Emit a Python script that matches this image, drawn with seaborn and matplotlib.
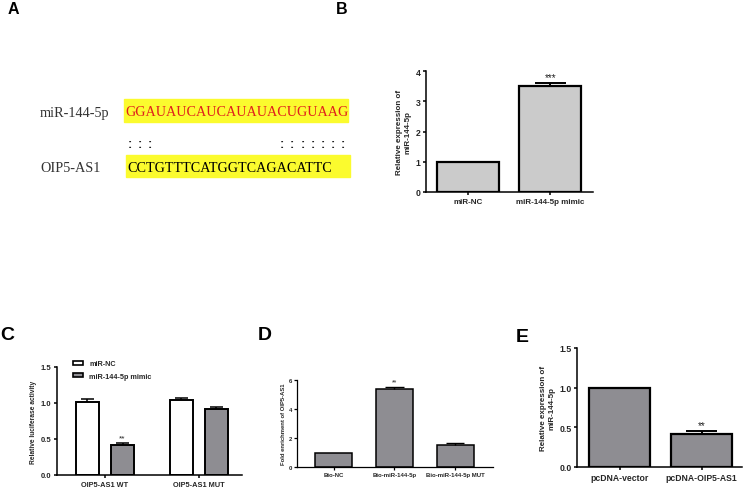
import numpy as np
import pandas as pd
import matplotlib
matplotlib.use("Agg")
import matplotlib.pyplot as plt
from matplotlib.patches import Rectangle, Patch
import seaborn as sns

# ---- data ----
seq_mir = "GGAUAUCAUCAUAUACUGUAAG"
seq_lnc = "CCTGTTTCATGGTCAGACATTC"
pair_idx = [0, 1, 2, 15, 16, 17, 18, 19, 20, 21]

b_groups = ["miR-NC", "miR-144-5p mimic"]
b_values = [1.0, 3.5]
b_err = [0.0, 0.1]
b_stars = ["", "***"]

c_groups = ["OIP5-AS1 WT", "OIP5-AS1 MUT"]
c_hue = ["miR-NC", "miR-144-5p mimic"]
c_nc = [1.02, 1.04]
c_nc_err = [0.03, 0.03]
c_mimic = [0.41, 0.91]
c_mimic_err = [0.04, 0.04]
c_stars = ["**", ""]

d_groups = ["Bio-NC", "Bio-miR-144-5p", "Bio-miR-144-5p MUT"]
d_values = [1.0, 5.35, 1.55]
d_err = [0.0, 0.2, 0.12]
d_stars = ["", "**", ""]

e_groups = ["pcDNA-vector", "pcDNA-OIP5-AS1"]
e_values = [1.0, 0.42]
e_err = [0.0, 0.03]
e_stars = ["", "**"]

GRAY = "#8e8d92"
LIGHT = "#cbcbcb"

sns.set_style("ticks")
plt.rcParams["font.family"] = ["Liberation Sans", "DejaVu Sans"]
plt.rcParams["font.weight"] = "bold"
plt.rcParams["axes.labelweight"] = "bold"

W, H = 743, 489
fig = plt.figure(figsize=(W / 100, H / 100), dpi=100)


def px_axes(left, right, top, bottom):
    return fig.add_axes([left / W, 1 - bottom / H, (right - left) / W, (bottom - top) / H])


def style_axes(ax, fs, lw, ticklen):
    sns.despine(ax=ax)
    for s in ("left", "bottom"):
        ax.spines[s].set_linewidth(lw)
        ax.spines[s].set_color("black")
    ax.tick_params(axis="both", labelsize=fs, width=lw, length=ticklen, color="black", pad=1.5)
    for t in ax.get_xticklabels() + ax.get_yticklabels():
        t.set_fontweight("bold")
    ax.set_xlabel("")


def add_err(ax, xs, ys, errs, stars, cap, lw, star_fs, star_off):
    # upward-only error bars, GraphPad style
    ys = np.array(ys)
    errs = np.array(errs)
    xs = np.array(xs)
    has = errs > 0
    top = ys + errs
    ax.vlines(xs[has], ys[has], top[has], color="black", linewidth=lw, zorder=5)
    xl, xr = ax.get_xlim()
    ax.hlines(top[has], xs[has] - cap, xs[has] + cap, color="black", linewidth=lw, zorder=5)
    for x, y, e, s in zip(xs, ys, errs, stars):
        if s:
            ax.text(x, y + e + star_off, s, ha="center", va="bottom", fontsize=star_fs,
                    fontweight="normal", color="#222222")


def bar_centers(container):
    return [p.get_x() + p.get_width() / 2 for p in container.patches]


# ---- panel A: sequence alignment ----
axa = fig.add_axes([0, 0, 1, 1])
axa.set_xlim(0, W)
axa.set_ylim(H, 0)
axa.axis("off")
axa.add_patch(Rectangle((124, 100), 224, 23, color="#fbfb2e", zorder=1))
axa.add_patch(Rectangle((126, 156), 224, 22, color="#fbfb2e", zorder=1))
serif = ["Liberation Serif", "DejaVu Serif"]
axa.text(40, 113, "miR-144-5p", family=serif, fontsize=10.3, fontweight="normal",
         color="#333333", va="center", ha="left")
axa.text(40, 169, "OIP5-AS1", family=serif, fontsize=10.3, fontweight="normal",
         color="#333333", va="center", ha="left")
axa.text(125, 113, seq_mir, family=serif, fontsize=10.2, fontweight="normal",
         color="#e0201c", va="center", ha="left", zorder=2)
axa.text(127, 169, seq_lnc, family=serif, fontsize=10.2, fontweight="normal",
         color="black", va="center", ha="left", zorder=2)
char_w = 223 / len(seq_mir)
for i in pair_idx:
    axa.text(125 + (i + 0.5) * char_w, 145, ":", fontsize=9, fontweight="bold",
             color="#222222", ha="center", va="center")

for lab, x, y, fs in [("A", 8, 10, 11.5), ("B", 336, 9, 11.5), ("C", 0, 335, 14),
                      ("D", 258, 335, 14), ("E", 516, 337, 14)]:
    axa.text(x, y, lab, fontsize=fs, fontweight="heavy", ha="left", va="center", color="black")

# ---- panel B ----
axb = px_axes(426, 593, 72, 193)
dfb = pd.DataFrame({"group": b_groups, "value": b_values})
sns.barplot(data=dfb, x="group", y="value", color=LIGHT, edgecolor="black",
            linewidth=1.6, width=0.76, errorbar=None, saturation=1, ax=axb)
axb.set_xlim(-0.51, 1.52)
add_err(axb, bar_centers(axb.containers[0]), b_values, b_err, b_stars, 0.19, 1.4, 7, 0.03)
axb.set_ylim(0, 4)
axb.set_yticks([0, 1, 2, 3, 4])
axb.set_ylabel("Relative expression of\nmiR-144-5p", fontsize=5.8, labelpad=3)
style_axes(axb, 6.2, 1.1, 2.5)
axb.tick_params(axis="x", labelsize=5.8)

# ---- panel C ----
axc = px_axes(57, 242, 368, 476)
dfc = pd.DataFrame({
    "group": c_groups * 2,
    "treat": [c_hue[0]] * 2 + [c_hue[1]] * 2,
    "value": c_nc + c_mimic,
})
sns.barplot(data=dfc, x="group", y="value", hue="treat", hue_order=c_hue,
            palette=["white", GRAY], edgecolor="black", linewidth=1.4, width=0.75,
            gap=0.35, errorbar=None, saturation=1, legend=False, ax=axc)
axc.set_xlim(-0.51, 1.46)
add_err(axc, bar_centers(axc.containers[0]), c_nc, c_nc_err, ["", ""], 0.07, 1.1, 6, 0.015)
add_err(axc, bar_centers(axc.containers[1]), c_mimic, c_mimic_err, c_stars, 0.07, 1.1, 6, 0.015)
axc.set_ylim(0, 1.5)
axc.set_yticks([0, 0.5, 1.0, 1.5])
axc.set_yticklabels(["0.0", "0.5", "1.0", "1.5"])
axc.set_ylabel("Relative luciferase activity", fontsize=4.8, labelpad=3)
style_axes(axc, 5.5, 1.1, 2.5)
axc.tick_params(axis="x", labelsize=5.3)
handles = [Patch(facecolor="white", edgecolor="black", linewidth=1.2),
           Patch(facecolor=GRAY, edgecolor="black", linewidth=1.2)]
leg = axc.legend(handles, c_hue, loc="upper left", bbox_to_anchor=(0.07, 1.09),
                 frameon=False, fontsize=5.2, handlelength=1.4, handleheight=0.5,
                 handletextpad=0.9, labelspacing=0.8, borderaxespad=0)
for t in leg.get_texts():
    t.set_fontweight("bold")

# ---- panel D ----
axd = px_axes(297, 493, 381, 468)
dfd = pd.DataFrame({"group": d_groups, "value": d_values})
sns.barplot(data=dfd, x="group", y="value", color=GRAY, edgecolor="black",
            linewidth=1.1, width=0.6, errorbar=None, saturation=1, ax=axd)
axd.set_xlim(-0.6, 2.62)
add_err(axd, bar_centers(axd.containers[0]), d_values, d_err, d_stars, 0.15, 1.0, 5, 0.05)
axd.set_ylim(0, 6)
axd.set_yticks([0, 2, 4, 6])
axd.set_ylabel("Fold enrichment of OIP5-AS1", fontsize=4.2, labelpad=2)
style_axes(axd, 4.3, 0.9, 2)

# ---- panel E ----
axe = px_axes(577, 742, 349, 468)
dfe = pd.DataFrame({"group": e_groups, "value": e_values})
sns.barplot(data=dfe, x="group", y="value", color=GRAY, edgecolor="black",
            linewidth=1.6, width=0.74, errorbar=None, saturation=1, ax=axe)
axe.set_xlim(-0.52, 1.49)
add_err(axe, bar_centers(axe.containers[0]), e_values, e_err, e_stars, 0.19, 1.4, 7, 0.012)
axe.set_ylim(0, 1.5)
axe.set_yticks([0, 0.5, 1.0, 1.5])
axe.set_yticklabels(["0.0", "0.5", "1.0", "1.5"])
axe.set_ylabel("Relative expression of\nmiR-144-5p", fontsize=5.8, labelpad=3)
style_axes(axe, 6.3, 1.1, 2.5)
axe.tick_params(axis="x", labelsize=6.2)

fig.savefig("out.png", dpi=100)
